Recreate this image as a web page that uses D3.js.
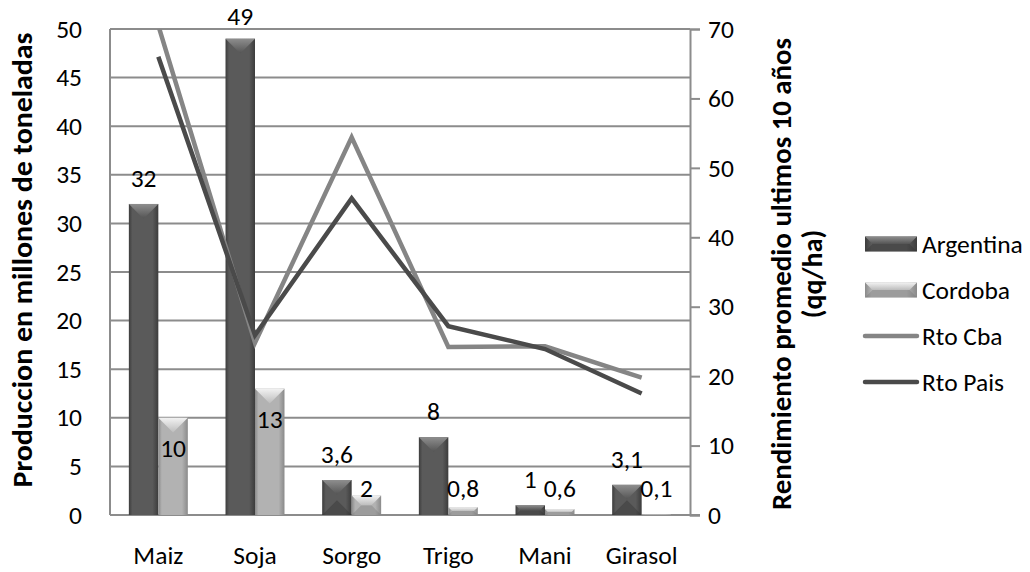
<!DOCTYPE html>
<html>
<head>
<meta charset="utf-8">
<script src="https://cdn.jsdelivr.net/npm/d3@7"></script>
<style>
  body { margin: 0; background: #fff; }
  text { font-family: Carlito, Calibri, Lato, sans-serif; fill: #000; }
</style>
</head>
<body>
<script>
// chart values
const categories = ["Maiz", "Soja", "Sorgo", "Trigo", "Mani", "Girasol"];
const argentina = [32, 49, 3.6, 8, 1, 3.1];
const cordoba = [10, 13, 2, 0.8, 0.6, 0.1];
const rtoCba = [70.5, 24.8, 54.4, 24.2, 24.3, 19.8];
const rtoPais = [66.0, 25.9, 45.6, 27.2, 23.9, 17.5];
const leftTicks = [0, 5, 10, 15, 20, 25, 30, 35, 40, 45, 50];
const rightTicks = [0, 10, 20, 30, 40, 50, 60, 70];
const barSeries = ["Argentina", "Cordoba"];
const lineSeries = ["Rto Cba", "Rto Pais"];

const width = 1030, height = 572;
const plot = { left: 110, right: 690, top: 29, bottom: 515 };
const fontSize = 25.5;

const svg = d3.select("body").append("svg")
    .attr("width", width)
    .attr("height", height);

// scales
const x = d3.scaleBand()
    .domain(categories)
    .range([plot.left, plot.right])
    .paddingInner(0.39)
    .paddingOuter(0.195);

const xSub = d3.scaleBand()
    .domain(barSeries)
    .range([0, x.bandwidth()]);

const yLeft = d3.scaleLinear().domain([0, 50]).range([plot.bottom, plot.top]);
const yRight = d3.scaleLinear().domain([0, 70]).range([plot.bottom, plot.top]);

const palette = {
    Argentina: { edge: "#3c3c3c", mid: "#5a5a5a", top1: "#8e8e8e", top2: "#545454", bottom: "#333" },
    Cordoba: { edge: "#8a8a8a", mid: "#b2b2b2", top1: "#f2f2f2", top2: "#bcbcbc", bottom: "#7a7a7a" }
};
const lineColor = { "Rto Cba": "#858585", "Rto Pais": "#4a4a4a" };

// gradients for the bevelled bars
const defs = svg.append("defs");
barSeries.forEach(s => {
    const p = palette[s];
    const g = defs.append("linearGradient").attr("id", "body-" + s)
        .attr("x1", 0).attr("x2", 1).attr("y1", 0).attr("y2", 0);
    g.append("stop").attr("offset", "0%").attr("stop-color", p.edge);
    g.append("stop").attr("offset", "12%").attr("stop-color", p.mid);
    g.append("stop").attr("offset", "80%").attr("stop-color", p.mid);
    g.append("stop").attr("offset", "100%").attr("stop-color", p.edge);
    const t = defs.append("linearGradient").attr("id", "top-" + s)
        .attr("x1", 0).attr("x2", 0).attr("y1", 0).attr("y2", 1);
    t.append("stop").attr("offset", "0%").attr("stop-color", p.top1);
    t.append("stop").attr("offset", "100%").attr("stop-color", p.top2);
});

defs.append("clipPath").attr("id", "plot-clip")
    .append("rect")
    .attr("x", plot.left).attr("y", plot.top)
    .attr("width", plot.right - plot.left).attr("height", plot.bottom - plot.top);

function bevelBar(g, bx, by, w, h, s) {
    const p = palette[s];
    const d = Math.min(w, h) / 2;
    g.append("rect")
        .attr("x", bx).attr("y", by).attr("width", w).attr("height", h)
        .attr("fill", `url(#body-${s})`);
    // bottom bevel only shows on short bars
    if (h < w * 2) {
        g.append("polygon")
            .attr("points", [[bx, by + h], [bx + d, by + h - d], [bx + w - d, by + h - d], [bx + w, by + h]].join(" "))
            .attr("fill", p.bottom).attr("opacity", 0.4);
    }
    g.append("polygon")
        .attr("points", [[bx, by], [bx + w, by], [bx + w - d, by + d], [bx + d, by + d]].join(" "))
        .attr("fill", `url(#top-${s})`);
}

// gridlines (left axis)
svg.append("g").selectAll("line")
    .data(leftTicks)
    .join("line")
    .attr("x1", plot.left).attr("x2", plot.right)
    .attr("y1", d => yLeft(d)).attr("y2", d => yLeft(d))
    .attr("stroke", "#8c8c8c").attr("stroke-width", 2);

// left axis line
svg.append("line")
    .attr("x1", plot.left).attr("x2", plot.left)
    .attr("y1", plot.top).attr("y2", plot.bottom)
    .attr("stroke", "#8c8c8c").attr("stroke-width", 2);

// right axis with outward ticks
const rightAxis = svg.append("g")
    .attr("transform", `translate(${plot.right},0)`)
    .call(d3.axisRight(yRight).tickValues(rightTicks).tickSize(10).tickPadding(8));
rightAxis.select(".domain").attr("stroke", "#8c8c8c").attr("stroke-width", 2);
rightAxis.selectAll(".tick line").attr("stroke", "#8c8c8c").attr("stroke-width", 2);
rightAxis.selectAll("text").attr("font-size", fontSize).attr("fill", "#000").attr("font-family", null);

// left axis labels
const leftAxis = svg.append("g")
    .attr("transform", `translate(${plot.left},0)`)
    .call(d3.axisLeft(yLeft).tickValues(leftTicks).tickSize(0).tickPadding(28));
leftAxis.select(".domain").remove();
leftAxis.selectAll("text").attr("font-size", fontSize).attr("fill", "#000").attr("font-family", null);

// bottom axis line + category labels
svg.append("line")
    .attr("x1", plot.left).attr("x2", plot.right + 10)
    .attr("y1", plot.bottom).attr("y2", plot.bottom)
    .attr("stroke", "#8c8c8c").attr("stroke-width", 2);

const bottomAxis = svg.append("g")
    .attr("transform", `translate(0,${plot.bottom})`)
    .call(d3.axisBottom(x).tickSize(0).tickPadding(31));
bottomAxis.select(".domain").remove();
bottomAxis.selectAll("text").attr("font-size", fontSize).attr("fill", "#000").attr("font-family", null);

// bars
const barData = categories.map((c, i) => ({ cat: c, Argentina: argentina[i], Cordoba: cordoba[i] }));
const barsG = svg.append("g");
barData.forEach(d => {
    barSeries.forEach(s => {
        const bx = x(d.cat) + xSub(s);
        const by = yLeft(d[s]);
        bevelBar(barsG, bx, by, xSub.bandwidth(), plot.bottom - by, s);
    });
});

// lines on the right axis
const lineData = { "Rto Cba": rtoCba, "Rto Pais": rtoPais };
const line = d3.line()
    .x((d, i) => x(categories[i]) + x.bandwidth() / 2)
    .y(d => yRight(d));

svg.append("g").attr("clip-path", "url(#plot-clip)")
    .selectAll("path")
    .data(lineSeries)
    .join("path")
    .attr("d", s => line(lineData[s]))
    .attr("fill", "none")
    .attr("stroke", s => lineColor[s])
    .attr("stroke-width", 4.5)
    .attr("stroke-linejoin", "miter");

// data labels
const fmt = v => String(v).replace(".", ",");
const labels = svg.append("g").attr("font-size", fontSize);
barData.forEach(d => {
    const ax = x(d.cat) + xSub("Argentina") + xSub.bandwidth() / 2;
    labels.append("text")
        .attr("x", ax).attr("y", Math.max(yLeft(d.Argentina) - 26, 16))
        .attr("text-anchor", "middle").attr("dy", "0.35em")
        .text(fmt(d.Argentina));
    const cx = x(d.cat) + xSub("Cordoba") + xSub.bandwidth() / 2;
    labels.append("text")
        .attr("x", cx).attr("y", Math.min(yLeft(d.Cordoba) + 30, plot.bottom - 27))
        .attr("text-anchor", "middle").attr("dy", "0.35em")
        .text(fmt(d.Cordoba));
});

// axis titles
svg.append("text")
    .attr("transform", `translate(32,260) rotate(-90)`)
    .attr("text-anchor", "middle")
    .attr("font-size", 28).attr("font-weight", "bold")
    .attr("textLength", 455).attr("lengthAdjust", "spacingAndGlyphs")
    .text("Produccion en millones de toneladas");

svg.append("text")
    .attr("transform", `translate(791,274) rotate(-90)`)
    .attr("text-anchor", "middle")
    .attr("font-size", 28).attr("font-weight", "bold")
    .attr("textLength", 472).attr("lengthAdjust", "spacingAndGlyphs")
    .text("Rendimiento promedio ultimos 10 años");
svg.append("text")
    .attr("transform", `translate(822,274) rotate(-90)`)
    .attr("text-anchor", "middle")
    .attr("font-size", 28).attr("font-weight", "bold")
    .text("(qq/ha)");

// legend
const legend = svg.append("g").attr("transform", "translate(865,244)");
barSeries.forEach((s, i) => {
    const gy = i * 46;
    bevelBar(legend, 0, gy - 7.5, 52, 15, s);
    legend.append("text").attr("x", 57).attr("y", gy).attr("dy", "0.35em")
        .attr("font-size", fontSize).text(s);
});
lineSeries.forEach((s, i) => {
    const gy = (i + 2) * 46;
    legend.append("line")
        .attr("x1", 0).attr("x2", 52).attr("y1", gy).attr("y2", gy)
        .attr("stroke", lineColor[s]).attr("stroke-width", 4.5)
        .attr("stroke-linecap", "round");
    legend.append("text").attr("x", 57).attr("y", gy).attr("dy", "0.35em")
        .attr("font-size", fontSize).text(s);
});
</script>
</body>
</html>
